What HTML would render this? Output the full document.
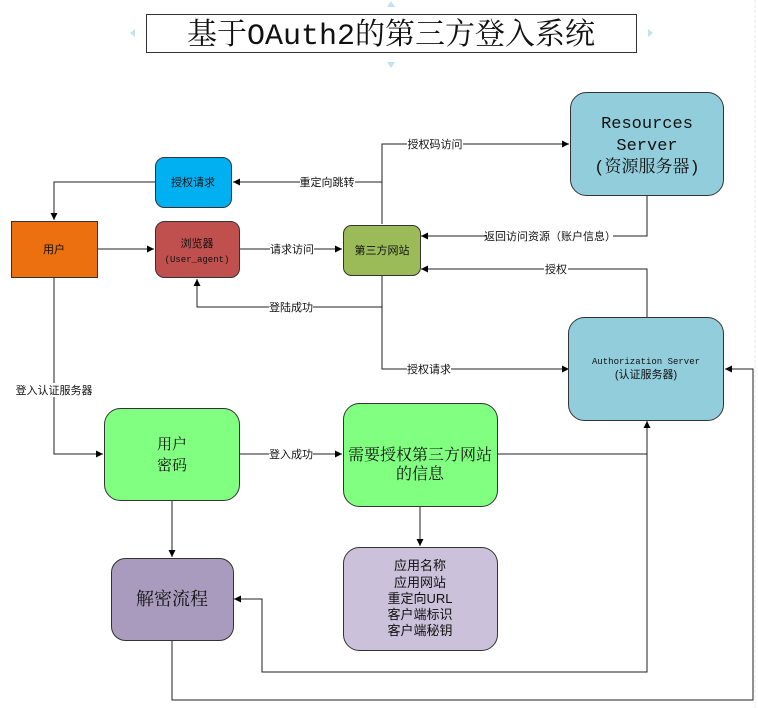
<!DOCTYPE html>
<html><head><meta charset="utf-8"><style>
html,body{margin:0;padding:0;background:#fff;}
svg{display:block;}
text{font-family:"Liberation Sans","Noto Sans CJK SC",sans-serif;}
.s{font-family:"Liberation Mono","Noto Serif CJK SC",serif;}
</style></head><body>
<svg width="758" height="708" viewBox="0 0 758 708" xmlns="http://www.w3.org/2000/svg">
<defs><marker id="a" markerWidth="8" markerHeight="8" refX="7" refY="4" orient="auto" markerUnits="userSpaceOnUse"><path d="M0,0.5 L7,4 L0,7.5z" fill="#000"/></marker></defs>
<line x1="755" y1="0" x2="755" y2="708" stroke="#e8e8e8" stroke-dasharray="3,2"/>
<!-- title -->
<rect x="146.5" y="14.5" width="490" height="38" fill="#fff" stroke="#333"/>
<text x="391" y="44" font-size="30" text-anchor="middle" class="s" fill="#111">基于OAuth2的第三方登入系统</text>
<path d="M391,1 l-4,6 h8z M391,68 l-4,-6 h8z M130,33 l5,-4 v8z M653,33 l-5,-4 v8z" fill="#bfe3f0"/>
<g stroke="#222" stroke-width="1" fill="none">
<polyline points="382,224 382,144 569,144" marker-end="url(#a)"/>
<line x1="382" y1="182" x2="233" y2="182" marker-end="url(#a)"/>
<polyline points="155,182 54,182 54,220" marker-end="url(#a)"/>
<line x1="98" y1="249" x2="154" y2="249" marker-end="url(#a)"/>
<line x1="240" y1="249" x2="342" y2="249" marker-end="url(#a)"/>
<polyline points="647,196 647,236 421,236" marker-end="url(#a)"/>
<polyline points="647,317 647,269 421,269" marker-end="url(#a)"/>
<polyline points="382,275 382,307 197,307 197,279" marker-end="url(#a)"/>
<polyline points="382,300 382,369 569,369" marker-end="url(#a)"/>
<polyline points="172,640 172,700 753,700 753,369 725,369" marker-end="url(#a)"/>
<polyline points="54,278 54,454 103,454" marker-end="url(#a)"/>
<line x1="240" y1="454" x2="342" y2="454" marker-end="url(#a)"/>
<polyline points="498,454 647,454 647,421" marker-end="url(#a)"/>
<polyline points="647,454 647,672 262,672 262,599 234,599" marker-end="url(#a)"/>
<line x1="172" y1="501" x2="172" y2="557" marker-end="url(#a)"/>
<line x1="420" y1="506" x2="420" y2="546" marker-end="url(#a)"/>
</g>
<!-- labels -->
<g font-size="11" fill="#111" text-anchor="middle">
<rect x="407" y="137" width="56" height="14" fill="#fff"/><text x="435" y="148">授权码访问</text>
<rect x="300" y="175" width="55" height="14" fill="#fff"/><text x="327" y="186">重定向跳转</text>
<rect x="270" y="242" width="44" height="14" fill="#fff"/><text x="292" y="253">请求访问</text>
<rect x="487" y="229" width="126" height="14" fill="#fff"/><text x="550" y="240">返回访问资源（账户信息）</text>
<rect x="544" y="262" width="24" height="14" fill="#fff"/><text x="556" y="273">授权</text>
<rect x="269" y="300" width="44" height="14" fill="#fff"/><text x="291" y="311">登陆成功</text>
<rect x="407" y="362" width="44" height="14" fill="#fff"/><text x="429" y="373">授权请求</text>
<rect x="14" y="383" width="80" height="14" fill="#fff"/><text x="54" y="394">登入认证服务器</text>
<rect x="269" y="447" width="44" height="14" fill="#fff"/><text x="291" y="458">登入成功</text>
</g>
<!-- boxes -->
<g stroke="#333" stroke-width="1">
<rect x="570.5" y="92.5" width="153" height="103" rx="16" fill="#92CDDC"/>
<rect x="155.5" y="157.5" width="76" height="50" rx="9" fill="#00B0F0"/>
<rect x="11.5" y="221.5" width="86" height="56" fill="#EC700F"/>
<rect x="155.5" y="221.5" width="84" height="56" rx="9" fill="#C0504D"/>
<rect x="343.5" y="225.5" width="77" height="50" rx="8" fill="#9BBB59"/>
<rect x="568.5" y="317.5" width="155" height="103" rx="16" fill="#92CDDC"/>
<rect x="104.5" y="408.5" width="135" height="92" rx="16" fill="#80FF80"/>
<rect x="343.5" y="403.5" width="154" height="103" rx="16" fill="#80FF80"/>
<rect x="111.5" y="558.5" width="122" height="82" rx="14" fill="#A99BBD"/>
<rect x="343.5" y="547.5" width="154" height="103" rx="16" fill="#CCC1DA"/>
</g>
<g fill="#111" text-anchor="middle">
<text x="647" y="128" font-size="17" class="s">Resources</text>
<text x="647" y="150" font-size="17" class="s">Server</text>
<text x="647" y="172" font-size="17" class="s">(资源服务器)</text>
<text x="193" y="186" font-size="11">授权请求</text>
<text x="54" y="253" font-size="11">用户</text>
<text x="197" y="247" font-size="11">浏览器</text>
<text x="197" y="262" font-size="9" class="s">(User_agent)</text>
<text x="382" y="254" font-size="11">第三方网站</text>
<text x="646" y="364" font-size="9" class="s">Authorization Server</text>
<text x="646" y="378" font-size="11">(认证服务器)</text>
<text x="172" y="449" font-size="15" class="s">用户</text>
<text x="172" y="470" font-size="15" class="s">密码</text>
<text x="420" y="460" font-size="16" class="s">需要授权第三方网站</text>
<text x="420" y="479" font-size="16" class="s">的信息</text>
<text x="172" y="605" font-size="18" class="s">解密流程</text>
<g font-size="13" class="s">
<text x="420" y="570">应用名称</text>
<text x="420" y="587">应用网站</text>
<text x="420" y="603">重定向URL</text>
<text x="420" y="619">客户端标识</text>
<text x="420" y="635">客户端秘钥</text>
</g>
</g>
</svg>
</body></html>
